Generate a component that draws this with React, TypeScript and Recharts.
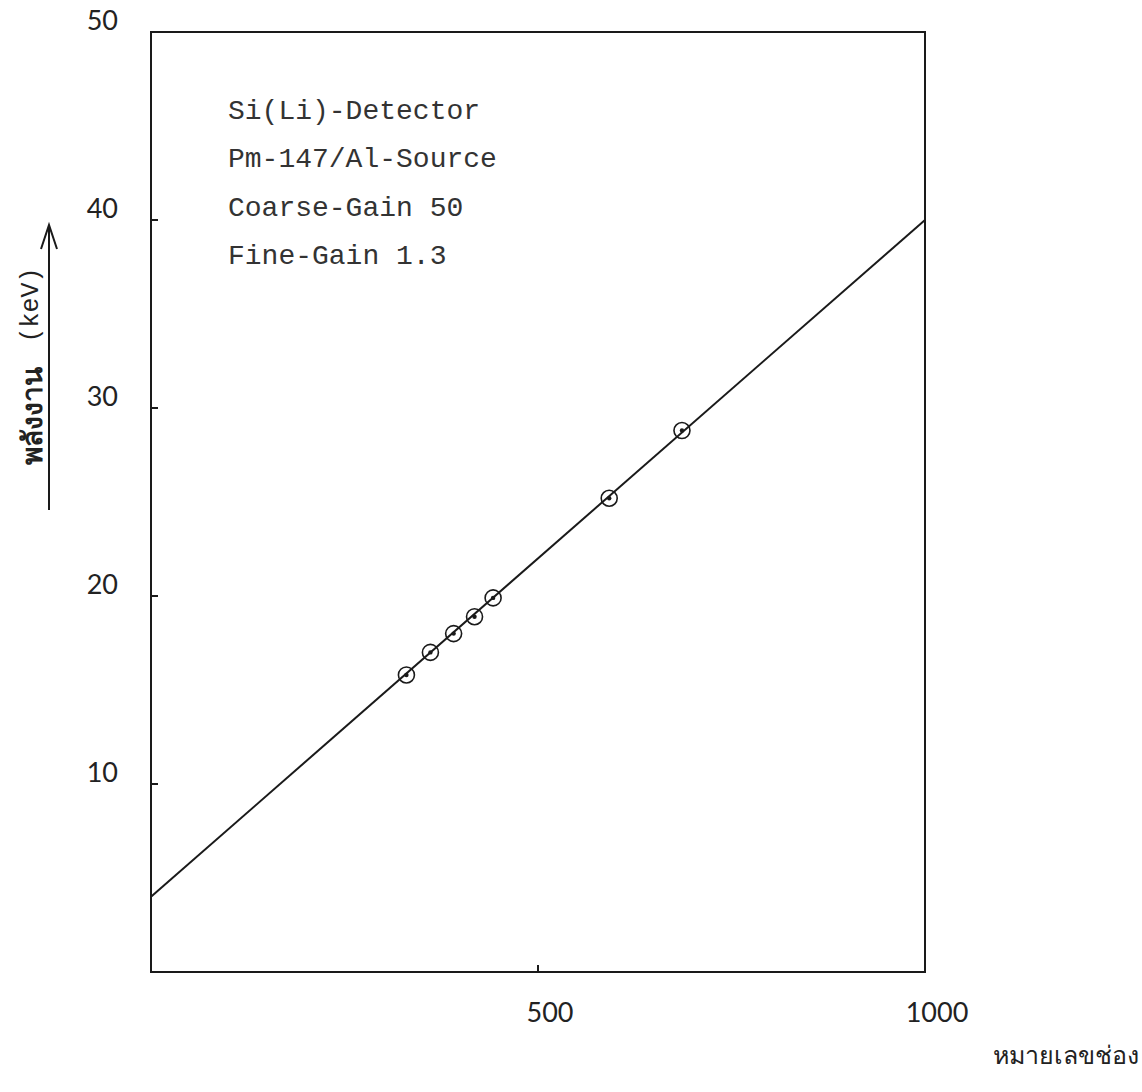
import { ComposedChart, Line, Scatter, XAxis, YAxis, ReferenceArea } from 'recharts'

// measured points (channel number vs. energy in keV)
const channels = [330, 361, 391, 418, 442, 592, 686]
const energies = [15.8, 17.0, 18.0, 18.9, 19.9, 25.2, 28.8]

// straight calibration line drawn through the points
const fitChannels = [0, 1000]
const fitEnergies = [4.0, 40.0]

const xTicks = [500, 1000]
const yTicks = [10, 20, 30, 40, 50]

const notes = ['Si(Li)-Detector', 'Pm-147/Al-Source', 'Coarse-Gain 50', 'Fine-Gain 1.3']

const xTitle = 'หมายเลขช่อง'
const yTitle = 'พลังงาน'
const yUnit = '(keV)'

const points = channels.map((ch, i) => ({ ch, e: energies[i] }))
const fitLine = fitChannels.map((ch, i) => ({ ch, e: fitEnergies[i] }))

const INK = '#1a1a1a'
const digitFont = 'Lato, "Open Sans", sans-serif'
const monoFont = '"Liberation Mono", "DejaVu Sans Mono", monospace'

const PointMark = (props: any) => {
    const { cx, cy } = props
    return (
        <g>
            <circle cx={cx} cy={cy} r={8} fill="none" stroke={INK} strokeWidth={1.6} />
            <circle cx={cx} cy={cy} r={2.2} fill={INK} stroke="none" />
        </g>
    )
}

const YTick = (props: any) => {
    const { x, y, payload } = props
    return (
        <g>
            <line x1={x} y1={y} x2={x + 7} y2={y} stroke={INK} strokeWidth={2} />
            <text x={x - 33} y={y - 13} textAnchor="end" dominantBaseline="central"
                fontFamily={digitFont} fontSize={27} fill="#222">
                {payload.value}
            </text>
        </g>
    )
}

const XTick = (props: any) => {
    const { x, y, payload } = props
    return (
        <g>
            <line x1={x} y1={y} x2={x} y2={y - 7} stroke={INK} strokeWidth={2} />
            <text x={x + 12} y={y + 39} textAnchor="middle" dominantBaseline="central"
                fontFamily={digitFont} fontSize={27} fill="#222">
                {payload.value}
            </text>
        </g>
    )
}

const YTitle = (props: any) => {
    const { viewBox } = props
    const cx = viewBox.x + 31
    const cy = viewBox.y + 334
    const ax = viewBox.x + 49
    const top = viewBox.y + 193
    const bottom = viewBox.y + 478
    return (
        <g>
            <text x={cx} y={cy} transform={`rotate(-90 ${cx} ${cy})`} textAnchor="middle"
                dominantBaseline="central" fill="#222">
                <tspan fontFamily='"Noto Sans", "DejaVu Sans", sans-serif' fontSize={28} fontWeight={700}>{yTitle}</tspan>
                <tspan dx={24} fontFamily={monoFont} fontSize={25}>{yUnit}</tspan>
            </text>
            <line x1={ax} y1={bottom} x2={ax} y2={top} stroke={INK} strokeWidth={2} />
            <polyline points={`${ax - 8},${top + 24} ${ax},${top} ${ax + 8},${top + 24}`}
                fill="none" stroke={INK} strokeWidth={2} />
        </g>
    )
}

const XTitle = (props: any) => {
    const { viewBox } = props
    return (
        <text x={viewBox.x + viewBox.width + 214} y={viewBox.y + 82} textAnchor="end"
            dominantBaseline="central" fontFamily='"Noto Sans", "DejaVu Sans", sans-serif'
            fontSize={25} fill="#222">
            {xTitle}
        </text>
    )
}

export default function App() {
    return (
        <div style={{ position: 'absolute', left: 0, top: 0, width: 1142, height: 1092, background: '#fff' }}>
            <ComposedChart width={1142} height={1092} margin={{ top: 32, right: 217, bottom: 0, left: 0 }}>
                <XAxis
                    type="number"
                    dataKey="ch"
                    domain={[0, 1000]}
                    ticks={xTicks}
                    height={120}
                    axisLine={{ stroke: INK, strokeWidth: 2 }}
                    tickLine={false}
                    tickSize={0}
                    tickMargin={0}
                    tick={<XTick />}
                    label={<XTitle />}
                />
                <YAxis
                    type="number"
                    dataKey="e"
                    domain={[0, 50]}
                    ticks={yTicks}
                    width={151}
                    axisLine={{ stroke: INK, strokeWidth: 2 }}
                    tickLine={false}
                    tickSize={0}
                    tickMargin={0}
                    tick={<YTick />}
                    label={<YTitle />}
                />
                <ReferenceArea x1={0} x2={1000} y1={0} y2={50} fill="none" fillOpacity={0}
                    stroke={INK} strokeWidth={2} />
                <Line
                    data={fitLine}
                    dataKey="e"
                    type="linear"
                    stroke={INK}
                    strokeWidth={2}
                    dot={false}
                    activeDot={false}
                    isAnimationActive={false}
                />
                <Scatter data={points} dataKey="e" shape={<PointMark />} isAnimationActive={false} />
            </ComposedChart>
            <svg width={1142} height={1092} style={{ position: 'absolute', left: 0, top: 0, pointerEvents: 'none' }}>
                {notes.map((t, i) => (
                    <text key={i} x={228} y={111 + i * 48.5} dominantBaseline="central"
                        fontFamily={monoFont} fontSize={28} fill="#333" xmlSpace="preserve">
                        {t}
                    </text>
                ))}
            </svg>
        </div>
    )
}
